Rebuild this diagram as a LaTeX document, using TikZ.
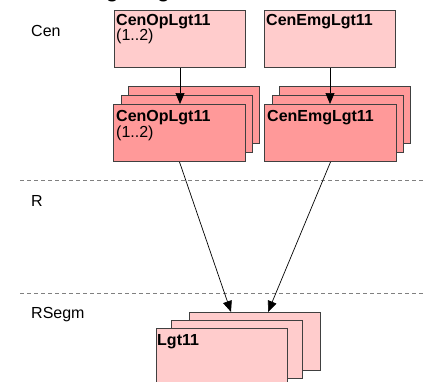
\documentclass[tikz,border=0pt]{standalone}
\usepackage{fontspec}
\setmainfont{Liberation Sans}
\usetikzlibrary{arrows.meta,calc}
\definecolor{paleRed}{HTML}{FFCCCC}
\definecolor{deepRed}{HTML}{FF9999}
\definecolor{edgeGray}{HTML}{404040}
\definecolor{laneGray}{HTML}{808080}

\tikzset{
  card/.style={draw=edgeGray, line width=1pt, rectangle, minimum width=131pt,
    minimum height=57pt, inner sep=0pt, anchor=north west},
  lite/.style={card, fill=paleRed},
  dark/.style={card, fill=deepRed},
  heading/.style={font=\fontsize{16}{19}\selectfont\bfseries, anchor=base west, inner sep=0pt},
  plain/.style={font=\fontsize{16}{19}\selectfont, anchor=base west, inner sep=0pt},
  lanesep/.style={draw=laneGray, line width=0.8pt, dash pattern=on 4pt off 3pt},
  flow/.style={draw=black, line width=0.7pt, -{Triangle[length=11pt,width=9pt]}}
}

\begin{document}
\begin{tikzpicture}[x=1pt,y=-1pt]
\useasboundingbox (0,0) rectangle (426,381);
\clip (0,0) rectangle (426,381);

% diagram title, mostly above the frame
\node[font=\fontsize{21}{25}\selectfont\bfseries, anchor=base west, inner sep=0pt] (diagTitle) at (87,-2.4) {Lighting};

% swimlane captions and separators
\node[plain] (laneCen) at (31,36) {Cen};
\node[plain] (laneR) at (31,206) {R};
\node[plain] (laneRSegm) at (31,318) {RSegm};
\coordinate (sepAL) at (20,180);
\coordinate (sepAR) at (426,180);
\coordinate (sepBL) at (20,293);
\coordinate (sepBR) at (426,293);
\draw[lanesep] (sepAL) -- (sepAR);
\draw[lanesep] (sepBL) -- (sepBR);

% Cen lane: single elements
\node[lite] (cenOp) at (114,10) {};
\node[heading] (cenOpName) at (116,25) {CenOpLgt11};
\node[plain] (cenOpMult) at (116,40) {(1..2)};
\node[lite] (cenEmg) at (264,10) {};
\node[heading] (cenEmgName) at (266,25) {CenEmgLgt11};

% Cen lane: stacked instances
\node[dark] (opBack) at (128,86) {};
\node[dark] (opMid) at (121,95) {};
\node[dark, minimum width=132pt] (opFront) at (113,104) {};
\node[heading] (opName) at (116,121) {CenOpLgt11};
\node[plain] (opMult) at (116,137) {(1..2)};

\node[dark] (emgBack) at (279,86) {};
\node[dark] (emgMid) at (272,95) {};
\node[dark, minimum width=132pt] (emgFront) at (264,104) {};
\node[heading] (emgName) at (267,121) {CenEmgLgt11};

% RSegm lane: stacked Lgt11
\node[lite, minimum height=58pt] (lgtBack) at (189,312) {};
\node[lite, minimum height=58pt] (lgtMid) at (171,320) {};
\node[lite, minimum height=58pt] (lgtFront) at (156,328) {};
\node[heading] (lgtName) at (157,345) {Lgt11};

% connectors
\coordinate (lgtInA) at ($(lgtBack.north west)+(42,0)$);
\coordinate (lgtInB) at ($(lgtBack.north west)+(79,0)$);
\draw[flow] (cenOp.south) -- (cenOp.south |- opFront.north);
\draw[flow] (cenEmg.south) -- (cenEmg.south |- emgFront.north);
\draw[flow] (opFront.south) -- (lgtInA);
\draw[flow] (emgFront.south) -- (lgtInB);
\end{tikzpicture}
\end{document}
